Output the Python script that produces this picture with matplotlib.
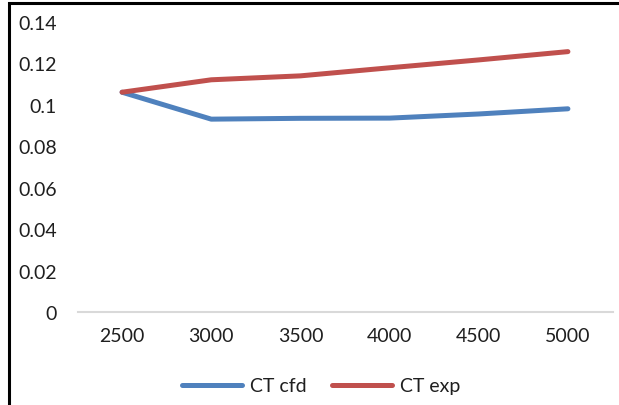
import matplotlib
matplotlib.use("Agg")
import matplotlib.pyplot as plt
from matplotlib.patches import Rectangle

# thrust coefficient vs rotational speed
rpm = ["2500", "3000", "3500", "4000", "4500", "5000"]
ct_cfd = [0.1061, 0.0931, 0.0935, 0.0936, 0.0956, 0.0981]
ct_exp = [0.1061, 0.1121, 0.1140, 0.1179, 0.1217, 0.1257]

plt.rcParams['font.family'] = ['Lato', 'DejaVu Sans']

fig = plt.figure(figsize=(6.19, 4.06), dpi=100)
ax = fig.add_axes([77.5 / 619, 1 - 313 / 406, 535 / 619, 290 / 406])

x = range(len(rpm))
ax.plot(x, ct_cfd, color="#4F81BD", lw=3.6, solid_capstyle="round",
        solid_joinstyle="round", label="CT cfd")
ax.plot(x, ct_exp, color="#C0504D", lw=3.6, solid_capstyle="round",
        solid_joinstyle="round", label="CT exp")

ax.set_xlim(-0.5, len(rpm) - 0.5)
ax.set_ylim(0, 0.14)
ax.set_xticks(list(x))
ax.set_xticklabels(rpm)
ax.set_yticks([0, 0.02, 0.04, 0.06, 0.08, 0.1, 0.12, 0.14])
ax.set_yticklabels(["0", "0.02", "0.04", "0.06", "0.08", "0.1", "0.12", "0.14"])
ax.tick_params(length=0, labelsize=14, colors="#1F1F1F", pad=11)
ax.tick_params(axis="y", pad=15)
for side in ["top", "right", "left"]:
    ax.spines[side].set_visible(False)
ax.spines["bottom"].set_color("#D9D9D9")
ax.spines["bottom"].set_linewidth(1.5)

fig.legend(loc="center", bbox_to_anchor=(321 / 619, 1 - 387 / 406), ncol=2,
           frameon=False, fontsize=14, handlelength=3.1, columnspacing=1.3,
           handletextpad=0.4, labelcolor="#1F1F1F")

# outer chart border
fig.patches.append(Rectangle((9 / 619, -0.1), 1.2, 1 - 4 / 406 + 0.1,
                             transform=fig.transFigure, fill=False,
                             edgecolor="black", linewidth=2.2, clip_on=False))

fig.savefig("out.png", dpi=100)
